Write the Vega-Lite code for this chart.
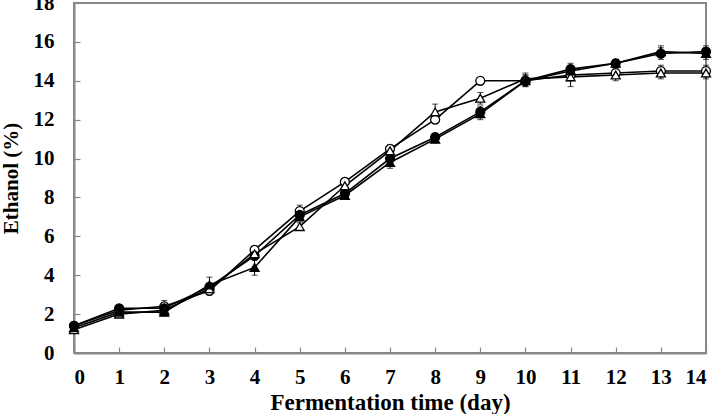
{
  "$schema": "https://vega.github.io/schema/vega-lite/v6.json",
  "autosize": {"type": "none"},
  "padding": {"left": 74, "top": 3, "right": 7, "bottom": 61},
  "width": 632,
  "height": 350,
  "background": "white",
  "config": {
    "view": {"stroke": "#888888", "strokeWidth": 2},
    "font": "Liberation Serif",
    "axis": {
      "domainColor": "#888888", "domainWidth": 2,
      "tickColor": "#888888", "tickWidth": 1.2, "tickSize": -6,
      "labelColor": "black", "labelFont": "Liberation Serif", "labelFontWeight": "bold", "labelFontSize": 21,
      "titleColor": "black", "titleFont": "Liberation Serif", "titleFontWeight": "bold", "titleFontSize": 20,
      "grid": false
    }
  },
  "data": {"values": [
    {"day":0,"series":"S1","ethanol":1.4,"sd":0.15},{"day":0,"series":"S2","ethanol":1.4,"sd":0.15},{"day":0,"series":"S3","ethanol":1.2,"sd":0.15},{"day":0,"series":"S4","ethanol":1.3,"sd":0.2},
    {"day":1,"series":"S1","ethanol":2.2,"sd":0.15},{"day":1,"series":"S2","ethanol":2.3,"sd":0.15},{"day":1,"series":"S3","ethanol":2.0,"sd":0.15},{"day":1,"series":"S4","ethanol":2.1,"sd":0.15},
    {"day":2,"series":"S1","ethanol":2.4,"sd":0.3},{"day":2,"series":"S2","ethanol":2.3,"sd":0.2},{"day":2,"series":"S3","ethanol":2.2,"sd":0.2},{"day":2,"series":"S4","ethanol":2.1,"sd":0.2},
    {"day":3,"series":"S1","ethanol":3.2,"sd":0.2},{"day":3,"series":"S2","ethanol":3.4,"sd":0.2},{"day":3,"series":"S3","ethanol":3.3,"sd":0.2},{"day":3,"series":"S4","ethanol":3.5,"sd":0.4},
    {"day":4,"series":"S1","ethanol":5.3,"sd":0.2},{"day":4,"series":"S2","ethanol":5.0,"sd":0.2},{"day":4,"series":"S3","ethanol":5.1,"sd":0.2},{"day":4,"series":"S4","ethanol":4.4,"sd":0.4},
    {"day":5,"series":"S1","ethanol":7.3,"sd":0.3},{"day":5,"series":"S2","ethanol":7.1,"sd":0.2},{"day":5,"series":"S3","ethanol":6.5,"sd":0.2},{"day":5,"series":"S4","ethanol":7.0,"sd":0.2},
    {"day":6,"series":"S1","ethanol":8.8,"sd":0.2},{"day":6,"series":"S2","ethanol":8.2,"sd":0.2},{"day":6,"series":"S3","ethanol":8.6,"sd":0.2},{"day":6,"series":"S4","ethanol":8.1,"sd":0.2},
    {"day":7,"series":"S1","ethanol":10.5,"sd":0.2},{"day":7,"series":"S2","ethanol":10.0,"sd":0.3},{"day":7,"series":"S3","ethanol":10.4,"sd":0.2},{"day":7,"series":"S4","ethanol":9.8,"sd":0.3},
    {"day":8,"series":"S1","ethanol":12.0,"sd":0.2},{"day":8,"series":"S2","ethanol":11.1,"sd":0.2},{"day":8,"series":"S3","ethanol":12.4,"sd":0.4},{"day":8,"series":"S4","ethanol":11.0,"sd":0.2},
    {"day":9,"series":"S1","ethanol":14.0,"sd":0.1},{"day":9,"series":"S2","ethanol":12.4,"sd":0.3},{"day":9,"series":"S3","ethanol":13.1,"sd":0.3},{"day":9,"series":"S4","ethanol":12.3,"sd":0.3},
    {"day":10,"series":"S1","ethanol":14.0,"sd":0.2},{"day":10,"series":"S2","ethanol":14.0,"sd":0.3},{"day":10,"series":"S3","ethanol":14.1,"sd":0.3},{"day":10,"series":"S4","ethanol":14.0,"sd":0.3},
    {"day":11,"series":"S1","ethanol":14.3,"sd":0.3},{"day":11,"series":"S2","ethanol":14.6,"sd":0.3},{"day":11,"series":"S3","ethanol":14.2,"sd":0.5},{"day":11,"series":"S4","ethanol":14.5,"sd":0.3},
    {"day":12,"series":"S1","ethanol":14.4,"sd":0.2},{"day":12,"series":"S2","ethanol":14.9,"sd":0.2},{"day":12,"series":"S3","ethanol":14.3,"sd":0.3},{"day":12,"series":"S4","ethanol":14.9,"sd":0.2},
    {"day":13,"series":"S1","ethanol":14.5,"sd":0.3},{"day":13,"series":"S2","ethanol":15.4,"sd":0.3},{"day":13,"series":"S3","ethanol":14.4,"sd":0.3},{"day":13,"series":"S4","ethanol":15.5,"sd":0.3},
    {"day":14,"series":"S1","ethanol":14.5,"sd":0.3},{"day":14,"series":"S2","ethanol":15.5,"sd":0.3},{"day":14,"series":"S3","ethanol":14.4,"sd":0.3},{"day":14,"series":"S4","ethanol":15.4,"sd":0.3}
  ]},
  "encoding": {
    "x": {"field": "day", "type": "quantitative", "scale": {"domain": [0, 14], "nice": false},
      "axis": {"values": [0,1,2,3,4,5,6,7,8,9,10,11,12,13,14], "title": "Fermentation time (day)", "titleFontSize": 23, "labelPadding": 19, "titlePadding": 4}},
    "y": {"field": "ethanol", "type": "quantitative", "scale": {"domain": [0, 18], "nice": false},
      "axis": {"values": [0,2,4,6,8,10,12,14,16,18], "title": "Ethanol (%)", "titleFontSize": 21, "labelPadding": 26, "titlePadding": 12}}
  },
  "layer": [
    {"mark": {"type": "line", "color": "black", "strokeWidth": 1.6}, "encoding": {"detail": {"field": "series"}}},
    {"mark": {"type": "errorbar", "ticks": {"size": 6, "color": "black"}, "rule": {"color": "black", "strokeWidth": 1}},
     "encoding": {"yError": {"field": "sd"}, "detail": {"field": "series"}}},
    {"mark": {"type": "point", "size": 80, "strokeWidth": 1.3, "stroke": "black", "opacity": 1, "filled": false},
     "encoding": {
       "shape": {"field": "series", "type": "nominal", "scale": {"domain": ["S1","S2","S3","S4"], "range": ["circle","circle","triangle-up","triangle-up"]}, "legend": null},
       "fill": {"field": "series", "type": "nominal", "scale": {"domain": ["S1","S2","S3","S4"], "range": ["white","black","white","black"]}, "legend": null}
     }}
  ]
}
